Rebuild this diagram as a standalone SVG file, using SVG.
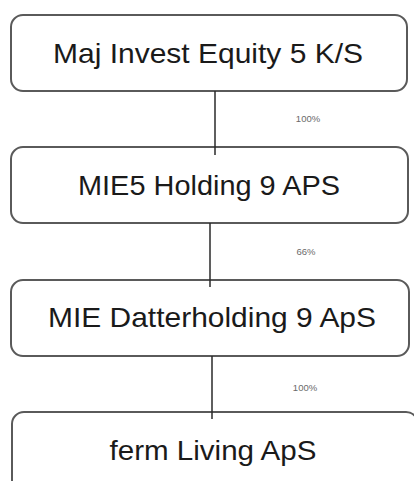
<svg xmlns="http://www.w3.org/2000/svg" width="414" height="481" viewBox="0 0 414 481">
<style>
.box{fill:#fff;stroke:#5a5a5a;stroke-width:2}
.t{font-family:"Liberation Sans",Arial,sans-serif;font-size:28px;fill:#1a1a1a;text-anchor:middle}
.p{font-family:"Liberation Sans",Arial,sans-serif;font-size:9.5px;fill:#6a6a6a;text-anchor:middle}
.c{stroke:#2a2a2a;stroke-width:1.5;fill:none}
</style>
<rect width="414" height="481" fill="#fff"/>
<g id="n1"><rect class="box" x="11" y="15" width="396" height="76" rx="12"/><text class="t" x="208" y="63" textLength="310" lengthAdjust="spacingAndGlyphs">Maj Invest Equity 5 K/S</text></g>
<g id="n2"><rect class="box" x="11" y="147" width="397" height="76" rx="12"/><text class="t" x="209" y="195" textLength="262" lengthAdjust="spacingAndGlyphs">MIE5 Holding 9 APS</text></g>
<g id="n3"><rect class="box" x="11" y="280" width="398" height="76" rx="12"/><text class="t" x="212" y="327" textLength="328" lengthAdjust="spacingAndGlyphs">MIE Datterholding 9 ApS</text></g>
<g id="n4"><rect class="box" x="12" y="412" width="406" height="90" rx="12"/><text class="t" x="213" y="460" textLength="207" lengthAdjust="spacingAndGlyphs">ferm Living ApS</text></g>
<g id="connectors">
<line class="c" x1="215" y1="91" x2="215" y2="155"/>
<line class="c" x1="210" y1="223" x2="210" y2="287"/>
<line class="c" x1="212" y1="356" x2="212" y2="419"/>
<text class="p" x="308" y="122">100%</text>
<text class="p" x="306" y="255">66%</text>
<text class="p" x="305" y="391">100%</text>
</g>
</svg>
